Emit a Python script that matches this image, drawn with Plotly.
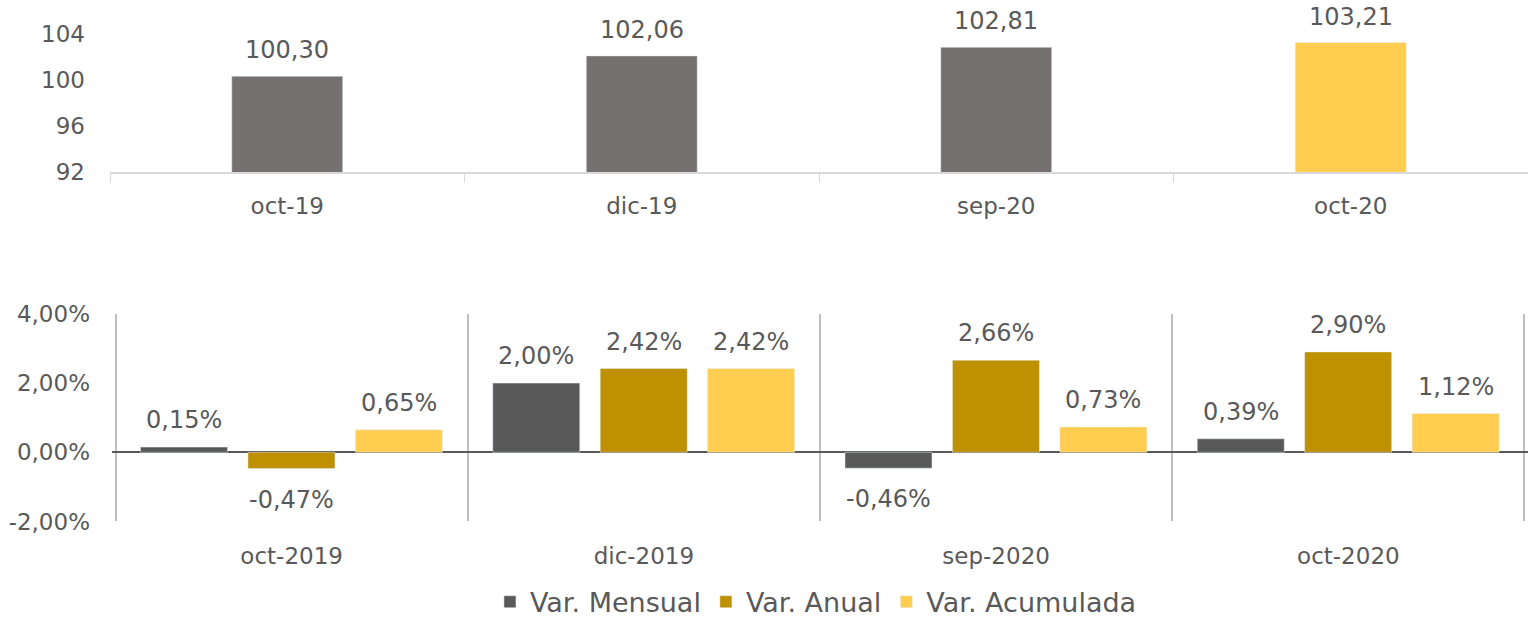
import plotly.graph_objects as go
from plotly.subplots import make_subplots

# ---- data ----
top_categories = ["oct-19", "dic-19", "sep-20", "oct-20"]
top_values = [100.30, 102.06, 102.81, 103.21]
top_colors = ["#767171", "#767171", "#767171", "#FFCD50"]
top_ticks = [92, 96, 100, 104]

bottom_categories = ["oct-2019", "dic-2019", "sep-2020", "oct-2020"]
var_mensual = [0.15, 2.00, -0.46, 0.39]
var_anual = [-0.47, 2.42, 2.66, 2.90]
var_acumulada = [0.65, 2.42, 0.73, 1.12]
series_names = ["Var. Mensual", "Var. Anual", "Var. Acumulada"]
series_colors = ["#595959", "#BF9000", "#FFCD50"]
bottom_ticks = [-2, 0, 2, 4]

FONT = "DejaVu Sans"
TXT = "#595959"
FS_TICK = 23
FS_LAB = 24
FS_LEG = 27

W = 1528
H = 627
K = 0.992  # slight vertical compensation


def fy(px):
    """paper fraction for a pixel row measured from the top"""
    return 1 - (px / K) / H


def es_num(v, dec=2):
    return f"{v:.{dec}f}".replace(".", ",")


fig = make_subplots(rows=2, cols=1)

top_w = 0.313
fig.add_trace(go.Bar(
    x=top_categories, y=top_values, marker_color=top_colors,
    width=top_w, showlegend=False,
), row=1, col=1)
for i, v in enumerate(top_values):
    fig.add_annotation(x=top_categories[i], y=v, xref="x", yref="y",
                       text=es_num(v), showarrow=False, yanchor="bottom", yshift=10,
                       font=dict(family=FONT, size=FS_LAB, color=TXT))

bw = 0.247
offsets = [-0.429, -0.124, 0.181]
all_series = [var_mensual, var_anual, var_acumulada]
for name, vals, col, off in zip(series_names, all_series, series_colors, offsets):
    fig.add_trace(go.Bar(
        x=bottom_categories, y=vals, name=name, marker_color=col,
        width=bw, offset=off,
    ), row=2, col=1)
    for i, v in enumerate(vals):
        pos = v >= 0
        fig.add_annotation(x=i + off + bw / 2, y=v, xref="x2", yref="y2",
                           text=es_num(v) + "%", showarrow=False,
                           yanchor="bottom" if pos else "top",
                           yshift=11 if pos else -15,
                           font=dict(family=FONT, size=FS_LAB, color=TXT))

fig.update_layout(
    width=W, height=H, barmode="overlay",
    margin=dict(l=0, r=0, t=0, b=0),
    paper_bgcolor="white", plot_bgcolor="rgba(0,0,0,0)",
    font=dict(family=FONT, size=FS_TICK, color=TXT),
    legend=dict(orientation="h", x=0.534, y=fy(612), xanchor="center", yanchor="middle",
                font=dict(family=FONT, size=FS_LEG, color=TXT), itemwidth=30,
                traceorder="normal"),
)

fig.update_xaxes(domain=[110 / W, 1.0], row=1, col=1, automargin=False,
                 showline=True, linecolor="#D9D9D9", linewidth=1.5,
                 tickson="boundaries", ticks="outside", ticklen=8, tickcolor="#D9D9D9",
                 showgrid=False, ticklabelstandoff=12,
                 tickfont=dict(family=FONT, size=FS_TICK, color=TXT))
fig.update_yaxes(domain=[fy(175), fy(34)], row=1, col=1, automargin=False,
                 range=[92, 104], tickvals=top_ticks, ticktext=[str(t) for t in top_ticks],
                 showgrid=False, zeroline=False, showline=False, ticks="",
                 ticklabelstandoff=24,
                 tickfont=dict(family=FONT, size=FS_TICK, color=TXT))

fig.update_xaxes(domain=[112 / W, 1.0], row=2, col=1, automargin=False,
                 range=[-0.51, 3.51],
                 tickson="boundaries", showgrid=True, gridcolor="#BFBFBF", gridwidth=1.5,
                 ticks="", showline=False, ticklabelstandoff=19,
                 tickfont=dict(family=FONT, size=FS_TICK, color=TXT))
fig.update_yaxes(domain=[fy(530), fy(319)], row=2, col=1, automargin=False,
                 range=[-2, 4], tickvals=bottom_ticks,
                 ticktext=[es_num(t) + "%" for t in bottom_ticks],
                 showgrid=False, zeroline=True, zerolinecolor="#595959", zerolinewidth=1.5,
                 ticklabelstandoff=21,
                 tickfont=dict(family=FONT, size=FS_TICK, color=TXT))

fig.write_html(
    "out.html",
    config={"displayModeBar": False},
    post_script=(
        "var d=document.documentElement,b=document.body;"
        "d.style.margin='0';d.style.padding='0';d.style.overflow='hidden';"
        "b.style.margin='0';b.style.padding='0';b.style.overflow='hidden';"
    ),
)
